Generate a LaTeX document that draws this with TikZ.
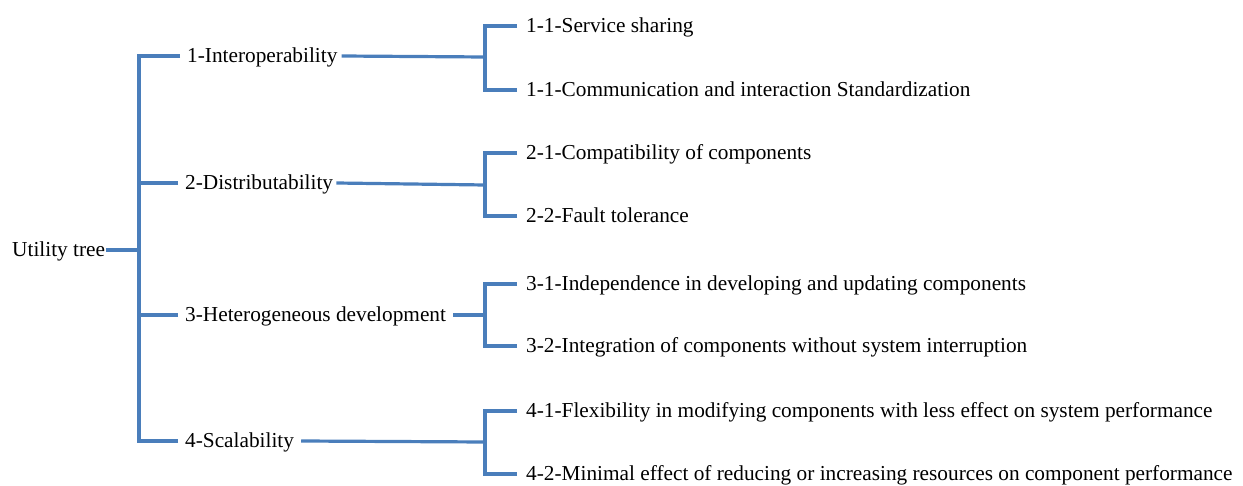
\documentclass[tikz,border=0pt]{standalone}
\usepackage{fontspec}
\setmainfont{Liberation Serif}
\definecolor{treeblue}{RGB}{74,126,187}
\begin{document}
\begin{tikzpicture}[x=1pt,y=-1pt,
  every node/.style={font=\fontsize{21.3}{25}\selectfont, text height=14pt, text depth=1pt, inner ysep=0pt},
  rootnode/.style={anchor=west, inner xsep=1pt},
  midnode/.style={anchor=west, inner xsep=7pt},
  leafnode/.style={anchor=west, inner xsep=9pt},
  link/.style={draw=treeblue, line width=3.2pt}]
\useasboundingbox (0,0) rectangle (1243,486);
% root
\node[rootnode] (root) at (11,250) {Utility tree};
\coordinate (trunk) at (139,250);
% level 1
\node[midnode] (a1) at (180,56) {1-Interoperability};
\node[midnode] (a2) at (178,183) {2-Distributability};
\node[midnode] (a3) at (178,315) {3-Heterogeneous development};
\node[midnode] (a4) at (178,441) {4-Scalability};
% junctions
\coordinate (j1) at (485,57);
\coordinate (j2) at (485,185);
\coordinate (j3) at (485,315);
\coordinate (j4) at (485,442);
% leaves
\node[leafnode] (b11) at (517,26) {1-1-Service sharing};
\node[leafnode] (b12) at (517,90) {1-1-Communication and interaction Standardization};
\node[leafnode] (b21) at (517,153) {2-1-Compatibility of components};
\node[leafnode] (b22) at (517,216) {2-2-Fault tolerance};
\node[leafnode] (b31) at (517,284) {3-1-Independence in developing and updating components};
\node[leafnode] (b32) at (517,346) {3-2-Integration of components without system interruption};
\node[leafnode] (b41) at (517,411) {4-1-Flexibility in modifying components with less effect on system performance};
\node[leafnode] (b42) at (517,474) {4-2-Minimal effect of reducing or increasing resources on component performance};
% connectors
\draw[link] (root.east) -- (trunk);
\draw[link] (a1.west) -| (trunk);
\draw[link] (a2.west) -| (trunk);
\draw[link] (a3.west) -| (trunk);
\draw[link] (a4.west) -| (trunk);
\draw[link] ([xshift=-3pt]a1.east) -- (j1);
\draw[link] ([xshift=-4pt]a2.east) -- (j2);
\draw[link] (a3.east) -- (j3);
\draw[link] (a4.east) -- (j4);
\draw[link] (b11.west) -| (j1);
\draw[link] (b12.west) -| (j1);
\draw[link] (b21.west) -| (j2);
\draw[link] (b22.west) -| (j2);
\draw[link] (b31.west) -| (j3);
\draw[link] (b32.west) -| (j3);
\draw[link] (b41.west) -| (j4);
\draw[link] (b42.west) -| (j4);
\end{tikzpicture}
\end{document}
